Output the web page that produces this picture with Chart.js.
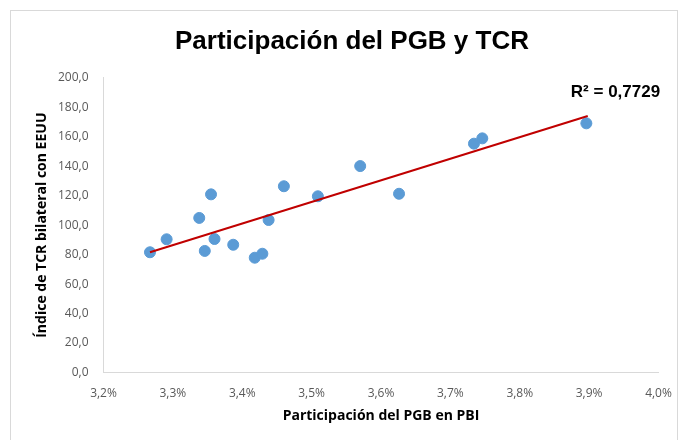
<!DOCTYPE html>
<html>
<head>
<meta charset="utf-8">
<style>
  html, body { margin: 0; padding: 0; background: #fff; }
  #wrap { width: 679px; height: 440px; position: relative; }
</style>
<script src="https://cdn.jsdelivr.net/npm/chart.js@4.4.1/dist/chart.umd.min.js"></script>
</head>
<body>
<div id="wrap"><canvas id="chart" width="679" height="440"></canvas></div>
<script>
// Participación del PGB en PBI (%) vs índice de TCR bilateral con EEUU
const pgbShare = [3.267, 3.291, 3.338, 3.346, 3.355, 3.360, 3.387, 3.418, 3.429,
  3.438, 3.460, 3.509, 3.570, 3.626, 3.734, 3.746, 3.896];
const tcrIndex = [81.6, 90.4, 104.9, 82.5, 120.9, 90.6, 86.7, 77.9, 80.6,
  103.5, 126.4, 119.6, 140.1, 121.3, 155.3, 158.9, 169.1];

// linear trendline as drawn in the picture (ends)
const trendX = [3.267, 3.898];
const trendY = [81.6, 174.1];
const rSquared = "R² = 0,7729";

// axis ticks
const xTicks = [3.2, 3.3, 3.4, 3.5, 3.6, 3.7, 3.8, 3.9, 4.0];
const yTicks = [0, 20, 40, 60, 80, 100, 120, 140, 160, 180, 200];

const narrowFont = "'Liberation Sans Narrow', 'Open Sans', sans-serif";

const points = pgbShare.map((x, i) => ({ x, y: tcrIndex[i] }));
const trend = trendX.map((x, i) => ({ x, y: trendY[i] }));

const fmt = v => v.toFixed(1).replace(".", ",");

// outer frame + R² label
const extras = {
  id: "extras",
  beforeDraw(chart) {
    const ctx = chart.ctx;
    ctx.save();
    ctx.strokeStyle = "#d9d9d9";
    ctx.lineWidth = 1;
    ctx.strokeRect(10.5, 10.5, 667, 440);
    ctx.restore();
  },
  afterDraw(chart) {
    const ctx = chart.ctx;
    ctx.save();
    ctx.font = "bold 17px 'Liberation Sans', Arial, sans-serif";
    ctx.fillStyle = "#000";
    ctx.textAlign = "center";
    ctx.textBaseline = "middle";
    ctx.fillText(rSquared, 615.5, 92.5);
    ctx.restore();
  }
};

new Chart(document.getElementById("chart"), {
  type: "scatter",
  data: {
    datasets: [
      {
        label: "TCR",
        data: points,
        backgroundColor: "#5B9BD5",
        borderColor: "#5B9BD5",
        pointRadius: 5.5,
        pointHoverRadius: 5.5,
        order: 2
      },
      {
        label: "Lineal",
        type: "line",
        data: trend,
        borderColor: "#C00000",
        borderWidth: 2,
        pointRadius: 0,
        fill: false,
        order: 1
      }
    ]
  },
  options: {
    responsive: false,
    animation: false,
    layout: { padding: { left: 45.5, right: 20.5, top: 10, bottom: 0 } },
    plugins: {
      legend: { display: false },
      tooltip: { enabled: false },
      title: {
        display: true,
        text: "Participación del PGB y TCR",
        color: "#000",
        font: { family: "'Liberation Sans', Arial, sans-serif", size: 26, weight: "bold", lineHeight: 1.2 },
        padding: { top: 16.4, bottom: 20.2 }
      }
    },
    scales: {
      x: {
        type: "linear",
        min: 3.2,
        max: 4.0,
        afterBuildTicks: s => { s.ticks = xTicks.map(v => ({ value: v })); },
        ticks: {
          color: "#595959",
          padding: 2,
          font: { family: "'Open Sans', sans-serif", size: 12 },
          callback: v => fmt(v) + "%"
        },
        grid: { display: false, drawTicks: true, tickLength: 12 },
        border: { display: true, color: "#d9d9d9", width: 1 },
        title: {
          display: true,
          text: "Participación del PGB en PBI",
          color: "#000",
          font: { family: narrowFont, size: 14, weight: "bold", lineHeight: 1.2 },
          padding: { top: 0, bottom: 15.6 }
        },
        afterFit: s => { s.height = 67.5; }
      },
      y: {
        min: 0,
        max: 200,
        afterBuildTicks: s => { s.ticks = yTicks.map(v => ({ value: v })); },
        ticks: {
          color: "#595959",
          padding: 15,
          font: { family: "'Open Sans', sans-serif", size: 12 },
          callback: v => fmt(v)
        },
        grid: { display: false, drawTicks: false },
        border: { display: true, color: "#d9d9d9", width: 1 },
        title: {
          display: true,
          text: "Índice de TCR bilateral con EEUU",
          color: "#000",
          font: { family: narrowFont, size: 14, weight: "bold", lineHeight: 1.2 },
          padding: { top: -11.9, bottom: 0 }
        },
        afterFit: s => { s.width = 58; }
      }
    }
  },
  plugins: [extras]
});
</script>
</body>
</html>
